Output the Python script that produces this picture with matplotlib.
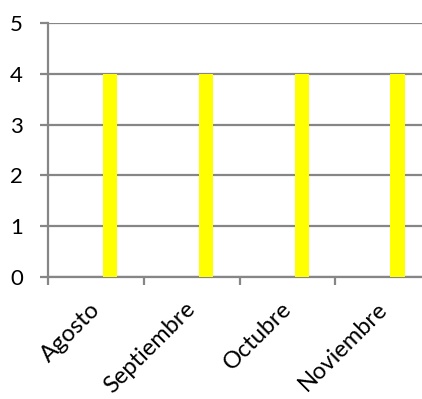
import numpy as np
import matplotlib.pyplot as plt
from matplotlib.transforms import ScaledTranslation

plt.rcParams.update({
    "font.family": ["Lato", "DejaVu Sans"],
    "font.size": 16,
})

months = ["Agosto", "Septiembre", "Octubre", "Noviembre"]
values = [4, 4, 4, 4]
y_ticks = [0, 1, 2, 3, 4, 5]

grid_color = "#868686"
bar_color = "#ffff00"

W, H = 422, 399
fig = plt.figure(figsize=(W / 100, H / 100), dpi=100)
ax = fig.add_axes([48 / W, 1 - 277 / H, (431 - 48) / W, (277 - 23) / H])

x = np.arange(len(months))
# bar sits on the right third of its category slot
ax.bar(x + 0.15, values, width=0.15, color=bar_color, zorder=3)

ax.set_xlim(-0.5, len(months) - 0.5)
ax.set_ylim(0, 5)
ax.set_yticks(y_ticks)
ax.yaxis.grid(True, color=grid_color, lw=1.6, zorder=0)

ax.set_xticks(x)
ax.set_xticklabels(months, rotation=45, ha="right", rotation_mode="anchor",
                   fontsize=17)
ax.set_xticks(np.arange(len(months)) - 0.5, minor=True)
ax.tick_params(axis="x", which="major", length=0, pad=4)
ax.tick_params(axis="x", which="minor", length=6, width=1.6, color=grid_color)
ax.tick_params(axis="y", length=6, width=1.6, color=grid_color, pad=12)

shift = ScaledTranslation(-0.07, -0.16, fig.dpi_scale_trans)
for lbl in ax.get_xticklabels():
    lbl.set_transform(lbl.get_transform() + shift)

for side in ["top", "right"]:
    ax.spines[side].set_visible(False)
for side in ["left", "bottom"]:
    ax.spines[side].set_color(grid_color)
    ax.spines[side].set_linewidth(1.6)

fig.savefig("out.png", dpi=100)
